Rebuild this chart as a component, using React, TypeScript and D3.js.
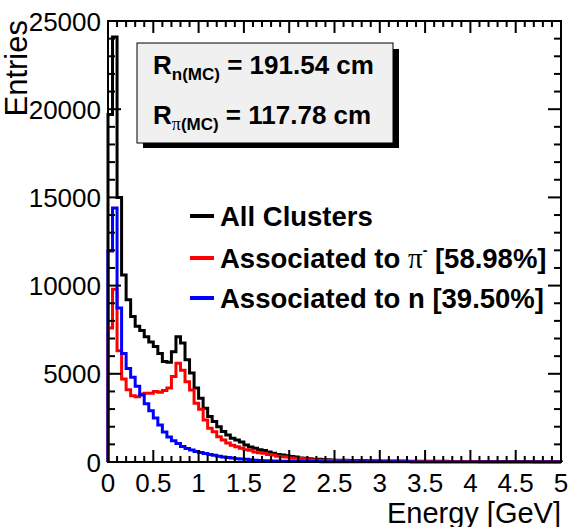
import React from "react";
import * as d3 from "d3";

// ---- data (bin width 0.05 GeV, 100 bins from 0 to 5 GeV) ----
const binWidth = 0.05;
const allClusters = [
  19700, 24100, 15000, 10600, 9200, 8250, 7700, 7450, 7100, 6800,
  6550, 6150, 5700, 5650, 6250, 7100, 6750, 5800, 5050, 4200,
  3620, 3050, 2580, 2290, 2000, 1730, 1530, 1340, 1250, 1130,
  960, 850, 780, 700, 650, 560, 500, 430, 400, 360,
  310, 280, 230, 210, 190, 160, 150, 140, 130, 115,
  105, 100, 95, 90, 85, 80, 78, 74, 70, 66,
  63, 60, 58, 55, 52, 50, 48, 46, 45, 43,
  41, 40, 38, 37, 36, 35, 33, 32, 31, 30,
  30, 29, 28, 27, 27, 26, 25, 25, 24, 24,
  23, 23, 22, 22, 21, 21, 20, 20, 19, 19,
];
const assocPi = [
  7600, 9800, 6300, 4700, 4100, 3750, 3700, 3850, 3900, 3900,
  4000, 3950, 4050, 4200, 4850, 5600, 5200, 4550, 4080, 3330,
  2990, 2380, 1910, 1720, 1430, 1250, 1080, 950, 870, 780,
  700, 660, 560, 530, 500, 420, 390, 320, 300, 280,
  230, 210, 200, 190, 130, 110, 100, 100, 90, 80,
  75, 70, 66, 62, 58, 55, 52, 50, 47, 45,
  43, 41, 40, 38, 36, 35, 34, 33, 32, 31,
  30, 29, 28, 27, 26, 25, 25, 24, 23, 23,
  22, 22, 21, 21, 20, 20, 19, 19, 18, 18,
  17, 17, 16, 16, 16, 15, 15, 15, 14, 14,
];
const assocN = [
  11960, 14400, 8730, 6150, 5300, 4800, 4300, 3800, 3300, 2900,
  2500, 2100, 1700, 1420, 1200, 1050, 880, 760, 680, 600,
  540, 480, 430, 380, 330, 290, 250, 220, 190, 170,
  150, 130, 100, 85, 75, 70, 60, 50, 45, 40,
  36, 33, 30, 28, 26, 24, 22, 20, 19, 18,
  17, 16, 15, 14, 13, 12, 12, 11, 11, 10,
  10, 9, 9, 9, 8, 8, 8, 7, 7, 7,
  7, 6, 6, 6, 6, 5, 5, 5, 5, 5,
  5, 4, 4, 4, 4, 4, 4, 4, 3, 3,
  3, 3, 3, 3, 3, 3, 3, 2, 2, 2,
];
const xTickLabels = ["0", "0.5", "1", "1.5", "2", "2.5", "3", "3.5", "4", "4.5", "5"];
const yTickLabels = ["0", "5000", "10000", "15000", "20000", "25000"];
const legendLabels = ["All Clusters", "Associated to ", "Associated to n [39.50%]"];
const radiusN = "191.54";
const radiusPi = "117.78";

const W = 576;
const H = 527;
const L = 108, R = 561, T = 21, B = 462;
const FONT = "'Liberation Sans', Arial, Helvetica, sans-serif";

export default function App() {
  const x = d3.scaleLinear().domain([0, 5]).range([L, R]);
  const y = d3.scaleLinear().domain([0, 25000]).range([B, T]);
  const line = d3.line<[number, number]>().x((d) => x(d[0])).y((d) => y(d[1]));

  const histPath = (vals: number[]) => {
    const pts: [number, number][] = [[0, 0]];
    vals.forEach((v, i) => {
      pts.push([i * binWidth, v]);
      pts.push([(i + 1) * binWidth, v]);
    });
    pts.push([vals.length * binWidth, 0]);
    return line(pts) || "";
  };

  const xMajor = xTickLabels.map((t) => +t);
  const xMinor = d3.range(0, 51).map((i) => i * 0.1).filter((v) => Math.abs(v * 2 - Math.round(v * 2)) > 1e-6);
  const yMajor = yTickLabels.map((t) => +t);
  const yMinor = d3.range(0, 26).map((i) => i * 1000).filter((v) => v % 5000 !== 0);

  const tickStroke = { stroke: "#000", strokeWidth: 2 };

  return (
    <svg width={W} height={H} style={{ position: "absolute", left: 0, top: 0, background: "#fff" }} fontFamily={FONT}>
      <rect x={0} y={0} width={W} height={H} fill="#fff" />
      {/* histograms */}
      <path d={histPath(allClusters)} fill="none" stroke="#000" strokeWidth={3} />
      <path d={histPath(assocPi)} fill="none" stroke="#ff0000" strokeWidth={3} />
      <path d={histPath(assocN)} fill="none" stroke="#0000ff" strokeWidth={3} />

      {/* frame */}
      <rect x={L} y={T} width={R - L} height={B - T} fill="none" stroke="#000" strokeWidth={2} />

      {/* x ticks bottom and top */}
      {xMajor.map((v) => (
        <g key={"xM" + v}>
          <line x1={x(v)} x2={x(v)} y1={B} y2={B - 12} {...tickStroke} />
          <line x1={x(v)} x2={x(v)} y1={T} y2={T + 12} {...tickStroke} />
        </g>
      ))}
      {xMinor.map((v) => (
        <g key={"xm" + v}>
          <line x1={x(v)} x2={x(v)} y1={B} y2={B - 6} {...tickStroke} />
          <line x1={x(v)} x2={x(v)} y1={T} y2={T + 6} {...tickStroke} />
        </g>
      ))}
      {/* y ticks left and right */}
      {yMajor.map((v) => (
        <g key={"yM" + v}>
          <line x1={L} x2={L + 13} y1={y(v)} y2={y(v)} {...tickStroke} />
          <line x1={R} x2={R - 13} y1={y(v)} y2={y(v)} {...tickStroke} />
        </g>
      ))}
      {yMinor.map((v) => (
        <g key={"ym" + v}>
          <line x1={L} x2={L + 7} y1={y(v)} y2={y(v)} {...tickStroke} />
          <line x1={R} x2={R - 7} y1={y(v)} y2={y(v)} {...tickStroke} />
        </g>
      ))}

      {/* tick labels */}
      {xTickLabels.map((t) => (
        <text key={"xl" + t} x={x(+t)} y={492} fontSize={26} textAnchor="middle">
          {t}
        </text>
      ))}
      {yTickLabels.map((t) => (
        <text key={"yl" + t} x={101} y={y(+t) + 9.5} fontSize={26} textAnchor="end">
          {t}
        </text>
      ))}

      {/* axis titles */}
      <text x={R} y={523} fontSize={29} textAnchor="end">Energy [GeV]</text>
      <text transform={`translate(27,${T - 1}) rotate(-90)`} fontSize={31} textAnchor="end">Entries</text>

      {/* stats box */}
      <rect x={143} y={49} width={256} height={99} fill="#000" />
      <rect x={137} y={43} width={256} height={100} fill="#f0f0f0" stroke="#000" strokeWidth={1} />
      <text x={153} y={74} fontSize={26} fontWeight="bold">
        R
        <tspan fontSize={17} dy={6}>n(MC)</tspan>
        <tspan dy={-6}>{` = ${radiusN} cm`}</tspan>
      </text>
      <text x={153} y={124} fontSize={26} fontWeight="bold">
        R
        <tspan fontSize={18} dy={6} fontFamily="'Liberation Serif', serif" fontWeight="normal">π</tspan>
        <tspan fontSize={17}>(MC)</tspan>
        <tspan dy={-6}>{` = ${radiusPi} cm`}</tspan>
      </text>

      {/* legend */}
      <line x1={190} x2={214} y1={216} y2={216} stroke="#000" strokeWidth={4} />
      <text x={220} y={226} fontSize={27.5} fontWeight="bold">{legendLabels[0]}</text>
      <line x1={190} x2={214} y1={258} y2={258} stroke="#ff0000" strokeWidth={4} />
      <text x={220} y={268} fontSize={27.5} fontWeight="bold">
        {legendLabels[1]}
        <tspan fontFamily="'Liberation Serif', serif" fontWeight="normal" fontSize={29}>π</tspan>
        <tspan fontSize={14} dy={-13}>-</tspan>
        <tspan dy={13}>{" [58.98%]"}</tspan>
      </text>
      <line x1={190} x2={214} y1={298} y2={298} stroke="#0000ff" strokeWidth={4} />
      <text x={220} y={308} fontSize={27.5} fontWeight="bold">{legendLabels[2]}</text>
    </svg>
  );
}
